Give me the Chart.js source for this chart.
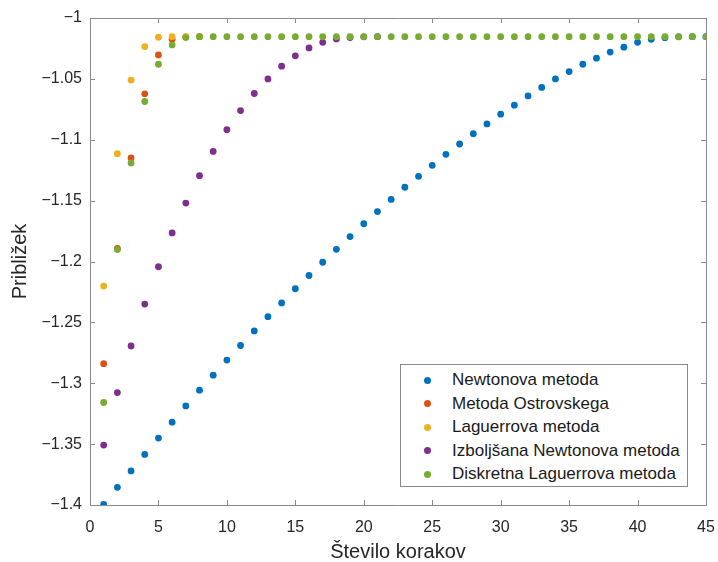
<!DOCTYPE html>
<html lang="sl">

<head>
    <meta charset="UTF-8">
    <title>Približek po korakih</title>
    <script src="https://cdn.jsdelivr.net/npm/chart.js"></script>
    <style>
        body { margin: 0; background: #fff; }
        #okvir { position: relative; width: 718px; height: 562px; }
        #legenda {
            position: absolute; left: 400px; top: 364px; width: 288px; height: 123px;
            border: 1px solid #8a8a8a; background: #fff; box-sizing: border-box;
            padding-top: 3px; font: 17px "Liberation Sans", Arial, sans-serif; color: #1a1a1a;
        }
        .vrstica { position: relative; height: 23.5px; line-height: 23.5px; padding-left: 51px; white-space: nowrap; }
        .pika { position: absolute; left: 23px; top: 8.5px; width: 7px; height: 7px; border-radius: 50%; }
    </style>
</head>

<body>
    <div id="okvir">
        <canvas id="graf" width="718" height="562"></canvas>
        <div id="legenda"></div>
    </div>

<script>
    // koraki (x) in priblizki (y) za vsako metodo
    var koraki = [1, 2, 3, 4, 5, 6, 7, 8, 9, 10, 11, 12, 13, 14, 15, 16, 17, 18, 19, 20, 21, 22, 23,
        24, 25, 26, 27, 28, 29, 30, 31, 32, 33, 34, 35, 36, 37, 38, 39, 40, 41, 42, 43, 44, 45]

    var newton = [-1.3995, -1.3855, -1.372, -1.3585, -1.345, -1.332, -1.3186, -1.3057, -1.2934, -1.281,
        -1.269, -1.257, -1.2453, -1.234, -1.2224, -1.2115, -1.2006, -1.190, -1.1795, -1.169,
        -1.159, -1.149, -1.139, -1.130, -1.121, -1.112, -1.1035, -1.095, -1.087, -1.079,
        -1.0716, -1.064, -1.057, -1.050, -1.044, -1.038, -1.033, -1.028, -1.024, -1.020,
        -1.0175, -1.0162, -1.0155, -1.0153, -1.0153]
    var ostrovski = [-1.2839, -1.1893, -1.115, -1.0623, -1.0303, -1.0175, -1.0155, -1.0153]
    var laguerre = [-1.2202, -1.1115, -1.051, -1.0235, -1.0158, -1.0153, -1.0153, -1.0153]
    var izboljsana = [-1.3508, -1.3077, -1.2694, -1.235, -1.2043, -1.1765, -1.152, -1.1295, -1.1096, -1.0918,
        -1.076, -1.062, -1.050, -1.0396, -1.0311, -1.0246, -1.020, -1.0172, -1.016, -1.0155, -1.0153]
    var diskretna = [-1.3158, -1.1902, -1.119, -1.0686, -1.038, -1.0221, -1.0161, -1.0153, -1.0153, -1.0153,
        -1.0153, -1.0153, -1.0153, -1.0153, -1.0153, -1.0153, -1.0153, -1.0153, -1.0153, -1.0153,
        -1.0153, -1.0153, -1.0153, -1.0153, -1.0153, -1.0153, -1.0153, -1.0153, -1.0153, -1.0153,
        -1.0153, -1.0153, -1.0153, -1.0153, -1.0153, -1.0153, -1.0153, -1.0153, -1.0153, -1.0153,
        -1.0153, -1.0153, -1.0153, -1.0153, -1.0153]

    var imena = ['Newtonova metoda', 'Metoda Ostrovskega', 'Laguerrova metoda',
        'Izboljšana Newtonova metoda', 'Diskretna Laguerrova metoda']
    var barve = ['#0072BD', '#D95319', '#EDB120', '#7E2F8E', '#77AC30']
    var serije = [newton, ostrovski, laguerre, izboljsana, diskretna]

    var xTicki = [0, 5, 10, 15, 20, 25, 30, 35, 40, 45]
    var yTicki = [-1.4, -1.35, -1.3, -1.25, -1.2, -1.15, -1.1, -1.05, -1]

    var pisava = '"Liberation Sans", Arial, sans-serif'
    var sivaOs = '#8a8a8a'

    function tocke(vrednosti) {
        var t = []
        for (var i = 0; i < vrednosti.length; i++) {
            t.push({ x: koraki[i], y: vrednosti[i] })
        }
        return t
    }

    function oznaka(v) {
        var r = Math.round(v * 100) / 100
        return (r < 0 ? '\u2212' : '') + Math.abs(r)
    }

    var datasets = []
    for (var i = 0; i < serije.length; i++) {
        datasets.push({
            label: imena[i],
            data: tocke(serije[i]),
            backgroundColor: barve[i],
            borderWidth: 0,
            pointRadius: 3.4,
            pointHoverRadius: 3.4,
            // kasnejse serije narisane na vrhu, kot v matlabu
            order: serije.length - i
        })
    }

    // okvir in kratke crtice navznoter na vseh stirih straneh
    var okvirOsi = {
        id: 'okvirOsi',
        afterDatasetsDraw: function (chart) {
            var c = chart.ctx, a = chart.chartArea
            var sx = chart.scales.x, sy = chart.scales.y
            c.save()
            c.strokeStyle = sivaOs
            c.lineWidth = 1
            c.beginPath()
            c.rect(Math.round(a.left) + 0.5, Math.round(a.top) + 0.5,
                Math.round(a.right - a.left), Math.round(a.bottom - a.top))
            xTicki.forEach(function (v) {
                var px = Math.round(sx.getPixelForValue(v)) + 0.5
                c.moveTo(px, a.bottom); c.lineTo(px, a.bottom - 5)
                c.moveTo(px, a.top); c.lineTo(px, a.top + 5)
            })
            yTicki.forEach(function (v) {
                var py = Math.round(sy.getPixelForValue(v)) + 0.5
                c.moveTo(a.left, py); c.lineTo(a.left + 5, py)
                c.moveTo(a.right, py); c.lineTo(a.right - 5, py)
            })
            c.stroke()
            c.restore()
        }
    }

    var ctx = document.getElementById('graf')

    var graf = new Chart(ctx, {
        type: 'scatter',
        data: { datasets: datasets },
        options: {
            responsive: false,
            animation: false,
            devicePixelRatio: 1,
            layout: { padding: { left: 0, right: 12, top: 18, bottom: 0 } },
            plugins: { legend: { display: false }, tooltip: { enabled: false } },
            events: [],
            scales: {
                x: {
                    type: 'linear', min: 0, max: 45,
                    afterFit: function (s) { s.height = 57; s.paddingLeft = 0; s.paddingRight = 0 },
                    afterBuildTicks: function (s) { s.ticks = xTicki.map(function (v) { return { value: v } }) },
                    grid: { display: false, drawTicks: false },
                    border: { display: false },
                    ticks: {
                        padding: 13, color: '#262626', maxRotation: 0,
                        font: { family: pisava, size: 16 },
                        callback: function (v) { return oznaka(v) }
                    },
                    title: {
                        display: true, text: 'Število korakov', color: '#262626',
                        font: { family: pisava, size: 20, lineHeight: 1 }, padding: 0
                    }
                },
                y: {
                    type: 'linear', min: -1.4, max: -1,
                    afterFit: function (s) { s.width = 90; s.paddingTop = 0; s.paddingBottom = 0 },
                    afterBuildTicks: function (s) { s.ticks = yTicki.map(function (v) { return { value: v } }) },
                    grid: { display: false, drawTicks: false },
                    border: { display: false },
                    ticks: {
                        padding: 8, color: '#262626',
                        font: { family: pisava, size: 16 },
                        callback: function (v) { return oznaka(v) }
                    },
                    title: {
                        display: true, text: 'Približek', color: '#262626',
                        font: { family: pisava, size: 20, lineHeight: 1 }, padding: { top: 10, bottom: 0 }
                    }
                }
            }
        },
        plugins: [okvirOsi]
    })

    // legenda v spodnjem desnem kotu grafa
    var leg = document.getElementById('legenda')
    for (var j = 0; j < graf.data.datasets.length; j++) {
        var d = graf.data.datasets[j]
        var vr = document.createElement('div')
        vr.className = 'vrstica'
        var p = document.createElement('span')
        p.className = 'pika'
        p.style.background = d.backgroundColor
        vr.appendChild(p)
        vr.appendChild(document.createTextNode(d.label))
        leg.appendChild(vr)
    }
</script>
</body>

</html>
